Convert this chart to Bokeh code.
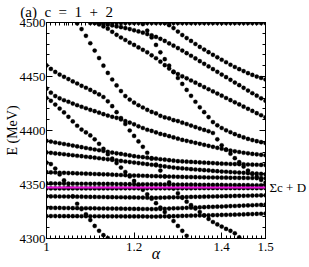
from bokeh.plotting import figure
from bokeh.models import Range1d, LinearAxis, FixedTicker, Span, NumeralTickFormatter, ColumnDataSource
from bokeh.embed import file_html
from bokeh.resources import INLINE

# ---- data ----
ALPHA = [1.00, 1.01, 1.02, 1.03, 1.04, 1.05, 1.06, 1.07, 1.08, 1.09,
         1.10, 1.11, 1.12, 1.13, 1.14, 1.15, 1.16, 1.17, 1.18, 1.19,
         1.20, 1.21, 1.22, 1.23, 1.24, 1.25, 1.26, 1.27, 1.28, 1.29,
         1.30, 1.31, 1.32, 1.33, 1.34, 1.35, 1.36, 1.37, 1.38, 1.39,
         1.40, 1.41, 1.42, 1.43, 1.44, 1.45, 1.46, 1.47, 1.48, 1.49, 1.50]

SIGMA_C_D = 4347.3   # threshold line
THRESHOLD_LABEL = "Σc + D"
TITLE = "(a)\u00a0 c\u00a0 =\u00a0 1\u00a0 +\u00a0 2"
TITLE_AT = 1.046     # horizontal centre of the panel title (alpha units)

# each level: first alpha, energies (MeV) at 0.01 steps
top_start = 1.10
top_E = [4499.5, 4499.5, 4499.5, 4499.5, 4499.5, 4499.5, 4499.5, 4499.5, 4499.5, 4499.5,
         4499.5, 4499.5, 4499.5, 4499.5, 4499.5, 4499.5, 4499.5, 4499.5, 4499.5, 4499.5,
         4499.5, 4499.5, 4499.5, 4499.5, 4499.5, 4499.5, 4499.5, 4499.5, 4499.5, 4499.5,
         4499.5, 4499.5, 4499.5, 4499.5, 4499.5, 4499.5, 4499.5, 4499.5, 4499.5, 4499.5, 4499.5]

c2_start = 1.07
c2_E = [4499.1, 4493.9, 4487.7, 4480.8, 4474.0, 4467.1, 4460.0, 4453.3, 4447.2, 4441.7,
        4436.5, 4431.9, 4428.6, 4425.8, 4423.4, 4421.3, 4419.1, 4417.2, 4415.8, 4413.6,
        4412.1, 4411.2, 4409.6, 4408.7, 4407.2, 4406.0, 4404.6, 4403.2, 4401.8, 4400.5,
        4399.3, 4397.7, 4391.8, 4386.3, 4382.2, 4378.5, 4374.4, 4370.7, 4366.6, 4362.9,
        4359.7, 4357.0, 4354.2, 4351.7]

c3_start = 1.00
c3_E = [4460.3, 4457.0, 4454.2, 4451.8, 4449.7, 4447.6, 4445.4, 4443.5, 4441.4, 4439.6,
        4437.6, 4435.5, 4433.4, 4431.0, 4427.0, 4422.5, 4417.0, 4411.5, 4406.0, 4400.0,
        4395.0, 4389.9, 4384.9, 4379.4, 4373.9, 4368.4, 4362.9, 4357.4, 4351.9, 4346.4,
        4341.9, 4337.7, 4334.1, 4330.9, 4327.7, 4324.5, 4321.3, 4318.1, 4315.3, 4313.0,
        4311.0, 4308.9, 4307.1, 4304.8, 4301.1]

c4_start = 1.00
c4_E = [4438.7, 4435.0, 4431.9, 4429.8, 4428.0, 4426.6, 4424.9, 4423.4, 4422.0, 4420.6,
        4419.1, 4417.9, 4416.5, 4415.1, 4413.8, 4412.7, 4411.7, 4410.3, 4408.7, 4407.3,
        4405.7, 4403.9, 4402.3, 4400.7, 4399.6, 4398.2, 4396.8, 4395.9, 4394.7, 4393.6,
        4392.4, 4391.3, 4390.4, 4389.5, 4388.6, 4387.7, 4386.7, 4385.8, 4384.9, 4384.0,
        4383.1, 4382.2, 4381.4, 4380.7, 4380.1, 4379.4, 4378.9, 4378.3, 4377.9, 4377.5, 4377.1]

s1_start = 1.00
s1_E = [4370.2, 4368.9, 4364.8, 4359.3, 4353.8, 4347.4, 4339.1, 4332.2, 4327.2, 4322.4,
        4317.1, 4311.6, 4307.1, 4303.1, 4300.4]

s2_start = 1.00
s2_E = [4430.1, 4427.5, 4424.0, 4420.3, 4416.7, 4412.7, 4408.4, 4404.4, 4400.9, 4398.2,
        4395.4, 4391.8, 4387.7, 4383.1, 4378.0, 4373.9, 4369.8, 4365.7, 4361.6, 4357.4,
        4353.3, 4349.2, 4345.1, 4340.9, 4336.8, 4332.7, 4328.6, 4324.5, 4320.3, 4316.2,
        4311.6, 4307.1, 4302.5]

s3_start = 1.22
s3_E = [4498.5, 4492.5, 4486.1, 4479.2, 4472.4, 4466.0, 4460.0, 4454.0, 4448.6, 4443.1,
        4437.6, 4432.1, 4426.6, 4421.5, 4417.0, 4412.4, 4407.8, 4404.8, 4402.3, 4400.2,
        4398.4, 4396.6, 4395.0, 4393.6, 4392.2, 4391.1, 4390.1, 4389.2, 4388.4]

t1_start = 1.27
t1_E = [4499.6, 4497.5, 4494.8, 4491.6, 4488.4, 4485.6, 4482.9, 4480.1, 4477.4, 4474.9,
        4472.5, 4470.1, 4467.8, 4465.5, 4463.2, 4460.9, 4458.8, 4456.8, 4455.0, 4453.1,
        4451.5, 4449.9, 4448.6, 4447.2]

t2_start = 1.12
t2_E = [4499.4, 4498.7, 4498.0, 4497.3, 4496.4, 4495.7, 4494.8, 4493.9, 4492.8, 4491.7,
        4490.6, 4489.3, 4488.1, 4486.6, 4484.9, 4482.9, 4480.6, 4478.5, 4476.3, 4474.0,
        4471.6, 4469.2, 4466.7, 4464.2, 4461.7, 4459.3, 4456.8, 4454.3, 4451.8, 4449.4,
        4446.9, 4444.4, 4442.0, 4439.5, 4437.0, 4434.5, 4432.2, 4429.8, 4427.5]

t4_start = 1.11
t4_E = [4499.6, 4498.2, 4496.4, 4494.3, 4491.4, 4488.6, 4486.1, 4483.8, 4481.3, 4479.2,
        4476.9, 4474.7, 4472.4, 4469.6, 4466.9, 4463.7, 4460.5, 4457.3, 4454.5, 4452.2,
        4450.2, 4448.3, 4446.3, 4444.3, 4442.2, 4440.2, 4438.2, 4436.2, 4434.2, 4432.2,
        4430.1, 4428.1, 4426.1, 4424.1, 4422.1, 4420.1, 4418.1, 4416.0, 4414.1, 4412.2]

h1_E = [4390.4, 4389.7, 4388.9, 4388.2, 4387.5, 4386.8, 4386.0, 4385.3, 4384.6, 4383.8,
        4383.1, 4382.4, 4381.7, 4381.0, 4380.3, 4379.6, 4378.9, 4378.3, 4377.6, 4376.9,
        4376.2, 4375.7, 4375.3, 4374.8, 4374.4, 4373.9, 4373.4, 4373.0, 4372.5, 4372.1,
        4371.6, 4371.4, 4371.1, 4370.9, 4370.7, 4370.4, 4370.2, 4370.0, 4369.8, 4369.5,
        4369.3, 4369.2, 4369.0, 4368.9, 4368.8, 4368.7, 4368.5, 4368.4, 4368.3, 4368.1, 4368.0]
h2_E = [4379.7, 4379.3, 4378.8, 4378.4, 4378.0, 4377.5, 4377.1, 4376.6, 4376.2, 4375.7,
        4375.3, 4374.8, 4374.3, 4373.8, 4373.3, 4372.8, 4372.3, 4371.8, 4371.3, 4370.8,
        4370.3, 4369.8, 4369.3, 4368.8, 4368.3, 4367.8, 4367.2, 4366.7, 4366.2, 4365.7,
        4365.2, 4364.9, 4364.6, 4364.2, 4363.9, 4363.6, 4363.3, 4363.0, 4362.6, 4362.3,
        4362.0, 4361.8, 4361.5, 4361.3, 4361.0, 4360.8, 4360.5, 4360.3, 4360.0, 4359.8, 4359.5]
h3_E = [4361.4, 4361.2, 4361.1, 4360.9, 4360.8, 4360.6, 4360.5, 4360.3, 4360.2, 4360.0,
        4359.9, 4359.7, 4359.6, 4359.4, 4359.3, 4359.1, 4358.9, 4358.8, 4358.6, 4358.5,
        4358.3, 4358.2, 4358.1, 4357.9, 4357.8, 4357.7, 4357.6, 4357.5, 4357.3, 4357.2,
        4357.1, 4357.0, 4356.9, 4356.9, 4356.8, 4356.7, 4356.6, 4356.5, 4356.5, 4356.4,
        4356.3, 4356.3, 4356.2, 4356.2, 4356.1, 4356.1, 4356.0, 4356.0, 4355.9, 4355.9, 4355.8]
h4_E = [4351.0, 4351.0, 4350.9, 4350.9, 4350.9, 4350.8, 4350.8, 4350.7, 4350.7, 4350.7,
        4350.6, 4350.6, 4350.6, 4350.5, 4350.5, 4350.5, 4350.4, 4350.4, 4350.3, 4350.3,
        4350.3, 4350.2, 4350.2, 4350.2, 4350.1, 4350.1, 4350.1, 4350.0, 4350.0, 4349.9,
        4349.9, 4349.9, 4349.8, 4349.8, 4349.8, 4349.7, 4349.7, 4349.7, 4349.6, 4349.6,
        4349.6, 4349.5, 4349.5, 4349.5, 4349.4, 4349.4, 4349.4, 4349.3, 4349.3, 4349.3, 4349.2]
h5_E = [4346.4, 4346.4, 4346.4, 4346.4, 4346.4, 4346.4, 4346.4, 4346.4, 4346.4, 4346.4,
        4346.4, 4346.4, 4346.4, 4346.4, 4346.4, 4346.4, 4346.4, 4346.5, 4346.5, 4346.5,
        4346.5, 4346.5, 4346.5, 4346.5, 4346.5, 4346.5, 4346.5, 4346.5, 4346.5, 4346.5,
        4346.5, 4346.5, 4346.5, 4346.5, 4346.6, 4346.6, 4346.6, 4346.6, 4346.6, 4346.6,
        4346.6, 4346.6, 4346.6, 4346.6, 4346.6, 4346.6, 4346.6, 4346.6, 4346.6, 4346.6, 4346.6]
h6_E = [4339.1, 4339.0, 4339.0, 4338.9, 4338.9, 4338.8, 4338.8, 4338.7, 4338.7, 4338.6,
        4338.5, 4338.5, 4338.4, 4338.4, 4338.3, 4338.3, 4338.2, 4338.2, 4338.1, 4338.0,
        4338.0, 4337.9, 4337.9, 4337.8, 4337.8, 4337.7, 4337.8, 4337.9, 4338.0, 4338.1,
        4338.2, 4338.3, 4338.4, 4338.5, 4338.6, 4338.6, 4338.7, 4338.8, 4338.9, 4339.0,
        4339.1, 4339.2, 4339.3, 4339.4, 4339.5, 4339.5, 4339.6, 4339.7, 4339.8, 4339.9, 4340.0]
h7_E = [4328.4, 4328.4, 4328.3, 4328.3, 4328.2, 4328.2, 4328.1, 4328.1, 4328.0, 4328.0,
        4327.9, 4327.9, 4327.8, 4327.8, 4327.7, 4327.7, 4327.6, 4327.6, 4327.5, 4327.5,
        4327.4, 4327.4, 4327.3, 4327.3, 4327.2, 4327.2, 4327.4, 4327.5, 4327.7, 4327.9,
        4328.0, 4328.2, 4328.4, 4328.5, 4328.7, 4328.9, 4329.0, 4329.2, 4329.3, 4329.5,
        4329.6, 4329.8, 4330.0, 4330.1, 4330.3, 4330.5, 4330.6, 4330.8, 4331.0, 4331.1, 4331.3]
h8_E = [4320.8, 4320.8, 4320.8, 4320.7, 4320.7, 4320.7, 4320.7, 4320.7, 4320.6, 4320.6,
        4320.6, 4320.6, 4320.6, 4320.5, 4320.5, 4320.5, 4320.5, 4320.5, 4320.4, 4320.4,
        4320.4, 4320.4, 4320.4, 4320.3, 4320.3, 4320.3, 4320.4, 4320.5, 4320.6, 4320.7,
        4320.8, 4320.9, 4321.0, 4321.1, 4321.2, 4321.3, 4321.4, 4321.5, 4321.6, 4321.7,
        4321.8, 4321.9, 4322.0, 4322.1, 4322.2, 4322.3, 4322.5, 4322.6, 4322.8, 4322.9, 4323.1]

LEVELS = [(top_start, top_E), (c2_start, c2_E), (c3_start, c3_E), (c4_start, c4_E),
          (s1_start, s1_E), (s2_start, s2_E), (s3_start, s3_E), (t1_start, t1_E),
          (t2_start, t2_E), (t4_start, t4_E),
          (1.00, h1_E), (1.00, h2_E), (1.00, h3_E), (1.00, h4_E),
          (1.00, h5_E), (1.00, h6_E), (1.00, h7_E), (1.00, h8_E)]

XTICKS = [1.0, 1.2, 1.4, 1.5]
YTICKS = [4300, 4350, 4400, 4450, 4500]

# ---- figure ----
FONT = "Liberation Serif"
p = figure(width=309, height=267, output_backend="svg", toolbar_location=None,
           x_range=Range1d(1.0, 1.5), y_range=Range1d(4300, 4500),
           min_border_left=46, min_border_right=42, min_border_top=19, min_border_bottom=29,
           x_axis_label="α", y_axis_label="E (MeV)")
p.grid.visible = False
p.outline_line_color = "black"
p.background_fill_color = "white"
p.border_fill_color = "white"

xs, ys = [], []
for a0, es in LEVELS:
    k = ALPHA.index(a0)
    xs.extend(ALPHA[k:k + len(es)])
    ys.extend(es)
src = ColumnDataSource(dict(a=xs, e=ys))
p.scatter("a", "e", source=src, size=4.2, marker="circle", fill_color="black",
          line_color="black", line_width=0.3)

p.add_layout(Span(location=SIGMA_C_D, dimension="width", line_color="#ee11dd", line_width=2))

xminor = [1 + 0.01 * k for k in range(51)]
yminor = list(range(4300, 4501, 10))

def style(ax, ticks, minor, size):
    ax.ticker = FixedTicker(ticks=ticks, minor_ticks=minor)
    ax.major_tick_in = 6
    ax.major_tick_out = 0
    ax.minor_tick_in = 3
    ax.minor_tick_out = 0
    ax.axis_line_color = "black"
    ax.major_tick_line_color = "black"
    ax.minor_tick_line_color = "black"
    ax.major_label_text_font = FONT
    ax.major_label_text_font_size = size
    ax.major_label_text_color = "black"
    ax.axis_label_text_font = FONT
    ax.axis_label_text_color = "black"

style(p.xaxis[0], XTICKS, xminor, "13px")
p.xaxis[0].formatter = NumeralTickFormatter(format="0.[0]")
p.xaxis[0].major_label_standoff = 4
p.xaxis[0].axis_label_text_font_size = "16px"
p.xaxis[0].axis_label_text_font_style = "italic"
p.xaxis[0].axis_label_standoff = -9

style(p.yaxis[0], YTICKS, yminor, "13px")
p.yaxis[0].major_label_standoff = 1
p.yaxis[0].axis_label_text_font_size = "14px"
p.yaxis[0].axis_label_text_font_style = "normal"
p.yaxis[0].axis_label_standoff = -3

# top axis: mirrored ticks, and the panel title as its only label
top = LinearAxis()
style(top, XTICKS + [TITLE_AT], xminor, "15px")
top.major_tick_in = 3
top.major_label_overrides = {**{t: "" for t in XTICKS}, TITLE_AT: TITLE}
top.major_label_standoff = 3
p.add_layout(top, "above")

right = LinearAxis()
style(right, YTICKS + [SIGMA_C_D], yminor, "13px")
right.major_label_overrides = {**{t: "" for t in YTICKS}, SIGMA_C_D: THRESHOLD_LABEL}
right.major_label_standoff = 4
p.add_layout(right, "right")

open("out.html", "w").write(file_html(p, INLINE))
